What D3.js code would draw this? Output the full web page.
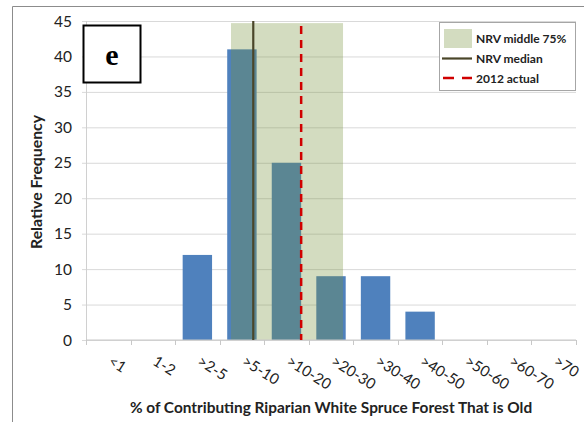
<!DOCTYPE html>
<html>
<head>
<meta charset="utf-8">
<script src="https://cdn.jsdelivr.net/npm/d3@7"></script>
<style>
  html, body { margin: 0; padding: 0; background: #fff; }
  svg { display: block; }
  .lbl { font-family: Lato, "Open Sans", sans-serif; fill: #222; }
</style>
</head>
<body>
<div id="chart"></div>
<script>
// categories on the x axis
const categories = ["<1", "1-2", ">2-5", ">5-10", ">10-20", ">20-30", ">30-40", ">40-50", ">50-60", ">60-70", ">70"];
// relative frequency for each category
const frequency = [0, 0, 12, 41, 25, 9, 9, 4, 0, 0, 0];
// y tick labels
const yTicks = [0, 5, 10, 15, 20, 25, 30, 35, 40, 45];
// NRV band / median / 2012 actual, in category-position units (0 = left edge of "<1")
const nrvBand = [3.255, 5.77];
const nrvBandTop = 44.7;
const nrvMedian = 3.755;
const actual2012 = 4.83;
const legendItems = ["NRV middle 75%", "NRV median", "2012 actual"];

const W = 584, H = 422;
const m = { left: 86, right: 8, top: 21, bottom: 82 };

const svg = d3.select("#chart").append("svg").attr("width", W).attr("height", H);

// outer frame
svg.append("path").attr("d", `M12.5,${H} L12.5,6.5 L${W},6.5`)
  .attr("fill", "none").attr("stroke", "#8c8c8c").attr("stroke-width", 1);

const x = d3.scaleBand().domain(categories).range([m.left, W - m.right])
  .paddingInner(0.34).paddingOuter(0.17);
const xPos = d3.scaleLinear().domain([0, categories.length]).range([m.left, W - m.right]);
const y = d3.scaleLinear().domain([0, 45]).range([H - m.bottom, m.top]);

// gridlines
const grid = svg.append("g").attr("transform", `translate(${m.left},0)`)
  .call(d3.axisLeft(y).tickValues(yTicks).tickSize(-(W - m.right - m.left)).tickFormat(""));
grid.select(".domain").remove();
grid.selectAll("line").attr("stroke", "#d9d9d9").attr("x1", -4);

// y axis line
svg.append("line").attr("x1", m.left + 0.5).attr("x2", m.left + 0.5)
  .attr("y1", y(45)).attr("y2", y(0)).attr("stroke", "#d0d0d0");

// y tick labels
svg.append("g").selectAll("text").data(yTicks).join("text")
  .attr("class", "lbl").attr("x", 72).attr("y", d => y(d)).attr("dy", "0.36em")
  .attr("text-anchor", "end").attr("font-size", 15.5).text(d => d);

// bars
svg.append("g").selectAll("rect").data(categories).join("rect")
  .attr("x", d => x(d)).attr("width", x.bandwidth())
  .attr("y", (d, i) => y(frequency[i])).attr("height", (d, i) => y(0) - y(frequency[i]))
  .attr("fill", "#4f81bd");

// NRV band
const bandFill = "rgb(118,146,60)";
svg.append("rect")
  .attr("x", xPos(nrvBand[0])).attr("width", xPos(nrvBand[1]) - xPos(nrvBand[0]))
  .attr("y", y(nrvBandTop)).attr("height", y(0) - y(nrvBandTop))
  .attr("fill", bandFill).attr("fill-opacity", 0.32);

// x axis line + ticks
const xAxis = svg.append("g").attr("transform", `translate(0,${y(0)})`);
xAxis.append("line").attr("x1", m.left).attr("x2", W - m.right).attr("stroke", "#c8c8c8");
xAxis.selectAll(".tk").data(d3.range(categories.length + 1)).join("line")
  .attr("x1", d => Math.round(xPos(d)) + 0.5).attr("x2", d => Math.round(xPos(d)) + 0.5)
  .attr("y1", 0).attr("y2", 5).attr("stroke", "#c8c8c8");

// median line
svg.append("line").attr("x1", xPos(nrvMedian)).attr("x2", xPos(nrvMedian))
  .attr("y1", y(45)).attr("y2", y(0)).attr("stroke", "#4a4629").attr("stroke-width", 2.2);

// 2012 actual
svg.append("line").attr("x1", xPos(actual2012)).attr("x2", xPos(actual2012))
  .attr("y1", y(44.3)).attr("y2", y(0)).attr("stroke", "#d00000").attr("stroke-width", 2.5)
  .attr("stroke-dasharray", "8,6");

// x tick labels (rotated)
svg.append("g").selectAll("text").data(categories).join("text")
  .attr("class", "lbl").attr("font-size", 15)
  .attr("transform", d => `translate(${x(d) + x.bandwidth() / 2 - 1},${y(0) + 24}) rotate(32)`)
  .attr("text-anchor", "start").text(d => d);

// axis titles
svg.append("text").attr("class", "lbl").attr("x", 331).attr("y", 413)
  .attr("text-anchor", "middle").attr("font-size", 15.4).attr("font-weight", "bold")
  .text("% of Contributing Riparian White Spruce Forest That is Old");
svg.append("text").attr("class", "lbl").attr("transform", "translate(42,182) rotate(-90)")
  .attr("text-anchor", "middle").attr("font-size", 15.8).attr("font-weight", "bold")
  .text("Relative Frequency");

// panel letter
svg.append("rect").attr("x", 83.5).attr("y", 25.5).attr("width", 57).attr("height", 57)
  .attr("fill", "#fff").attr("stroke", "#000").attr("stroke-width", 2);
svg.append("text").attr("x", 112).attr("y", 65).attr("text-anchor", "middle")
  .attr("font-family", "'Liberation Serif', 'DejaVu Serif', serif").attr("font-weight", "bold")
  .attr("font-size", 30).attr("fill", "#000").text("e");

// legend
const lg = svg.append("g");
lg.append("rect").attr("x", 439.5).attr("y", 22.5).attr("width", 136).attr("height", 68)
  .attr("fill", "#fff").attr("stroke", "#a6a6a6");
lg.append("rect").attr("x", 444).attr("y", 29).attr("width", 28).attr("height", 19)
  .attr("fill", bandFill).attr("fill-opacity", 0.32);
lg.append("line").attr("x1", 442).attr("x2", 472).attr("y1", 58.5).attr("y2", 58.5)
  .attr("stroke", "#4a4629").attr("stroke-width", 2.2);
lg.append("line").attr("x1", 443).attr("x2", 472).attr("y1", 78).attr("y2", 78)
  .attr("stroke", "#d00000").attr("stroke-width", 2.5).attr("stroke-dasharray", "11,8");
lg.selectAll(".lt").data(legendItems).join("text")
  .attr("class", "lbl").attr("x", 476).attr("y", (d, i) => 39 + i * 19.6).attr("dy", "0.36em")
  .attr("font-size", 12).attr("font-weight", "bold").text(d => d);
</script>
</body>
</html>
